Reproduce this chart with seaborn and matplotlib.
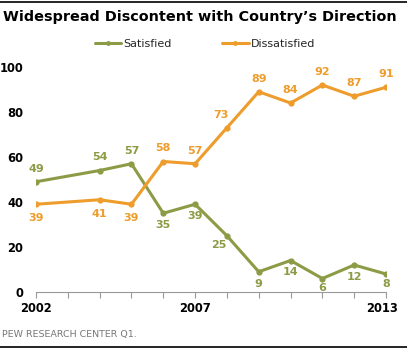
import matplotlib
matplotlib.use("Agg")
import matplotlib.pyplot as plt
import matplotlib.transforms as mtransforms
import seaborn as sns
import pandas as pd
from matplotlib.lines import Line2D

years = [2002, 2004, 2005, 2006, 2007, 2008, 2009, 2010, 2011, 2012, 2013]
satisfied = [49, 54, 57, 35, 39, 25, 9, 14, 6, 12, 8]
dissatisfied = [39, 41, 39, 58, 57, 73, 89, 84, 92, 87, 91]
series_names = ["Satisfied", "Dissatisfied"]
x_tick_labels = {2002: "2002", 2007: "2007", 2013: "2013"}
y_ticks = [0, 20, 40, 60, 80, 100]

title = "Widespread Discontent with Country\u2019s Direction"
source = "PEW RESEARCH CENTER Q1."

GREEN = "#8C9B45"
ORANGE = "#EE9C2C"

df = pd.concat([
    pd.DataFrame({"year": years, "value": satisfied, "series": series_names[0]}),
    pd.DataFrame({"year": years, "value": dissatisfied, "series": series_names[1]}),
])

sns.set_style("white")
plt.rcParams["font.family"] = ["DejaVu Sans"]

fig = plt.figure(figsize=(4.07, 3.5), dpi=100)
ax = fig.add_axes([36 / 407, 1 - 292 / 350, 350 / 407, 225 / 350])

sns.lineplot(data=df, x="year", y="value", hue="series",
             palette={series_names[0]: GREEN, series_names[1]: ORANGE},
             marker="o", markersize=4.5, markeredgewidth=0, linewidth=2.2,
             legend=False, ax=ax)

ax.set_xlim(2002, 2013)
ax.set_ylim(0, 100)
ax.set_xlabel("")
ax.set_ylabel("")
ax.set_xticks(list(range(2002, 2014)))
ax.set_xticklabels([x_tick_labels.get(y, "") for y in range(2002, 2014)],
                   fontweight="bold", fontsize=8.3, color="black")
ax.set_yticks(y_ticks)
ax.set_yticklabels([str(v) for v in y_ticks], fontweight="bold", fontsize=8.3, color="black")
ax.tick_params(axis="x", direction="out", length=4, color="#999999", width=0.8, pad=3,
               bottom=True)
ax.tick_params(axis="y", length=0, pad=9)
for s in ["top", "right", "left"]:
    ax.spines[s].set_visible(False)
ax.spines["bottom"].set_color("#999999")
ax.spines["bottom"].set_linewidth(0.8)
shift = mtransforms.ScaledTranslation(-4 / 100, 0, fig.dpi_scale_trans)
for lbl in ax.get_xticklabels():
    if lbl.get_text() == "2013":
        lbl.set_transform(lbl.get_transform() + shift)

# data labels
UP, DN = (0, 9.5), (0, -8.5)
sat_off = {2002: UP, 2004: UP, 2005: UP, 2006: DN, 2007: DN,
           2008: (-6, -7), 2009: DN, 2010: DN, 2011: (0, -7), 2012: DN, 2013: (0, -7)}
dis_off = {2002: (0, -10), 2004: (0, -10), 2005: (0, -10), 2006: UP, 2007: UP,
           2008: (-4, 9.5), 2009: UP, 2010: UP, 2011: UP, 2012: UP, 2013: UP}
for yr, v in zip(years, satisfied):
    ax.annotate(str(v), (yr, v), xytext=sat_off[yr], textcoords="offset points",
                ha="center", va="center", color=GREEN, fontsize=8, fontweight="bold")
for yr, v in zip(years, dissatisfied):
    ax.annotate(str(v), (yr, v), xytext=dis_off[yr], textcoords="offset points",
                ha="center", va="center", color=ORANGE, fontsize=8, fontweight="bold")

# legend
handles = [Line2D([0], [0], color=GREEN, lw=2.2, marker="o", markersize=3.5, markeredgewidth=0),
           Line2D([0], [0], color=ORANGE, lw=2.2, marker="o", markersize=3.5, markeredgewidth=0)]
fig.legend(handles, series_names, loc="center", bbox_to_anchor=(205 / 407, 1 - 44 / 350),
           ncol=2, frameon=False, fontsize=8, handlelength=2.4, handletextpad=0.2,
           columnspacing=4.5)

fig.text(3 / 407, 1 - 17 / 350, title, fontsize=10.4, fontweight="bold",
         ha="left", va="center", color="#000000")
fig.text(2 / 407, 1 - 334 / 350, source, fontsize=6.8, color="#777777",
         ha="left", va="center")

fig.add_artist(Line2D([0, 1], [1 - 2 / 350, 1 - 2 / 350], color="black", lw=1.2,
                      transform=fig.transFigure))
fig.add_artist(Line2D([0, 1], [1 - 347 / 350, 1 - 347 / 350], color="black", lw=1.2,
                      transform=fig.transFigure))

fig.savefig("out.png", dpi=100)
